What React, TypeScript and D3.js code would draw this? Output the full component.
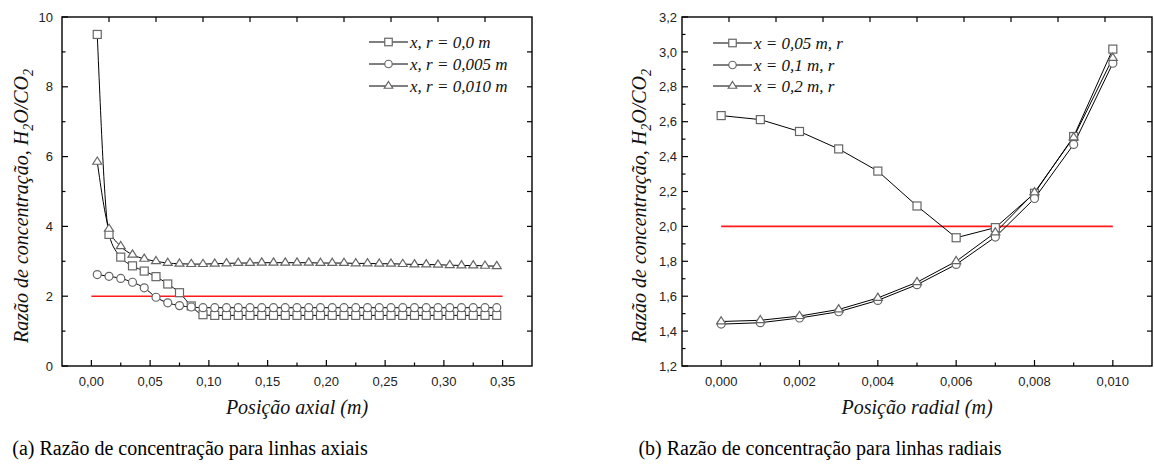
import React from "react";
import * as d3 from "d3";

// ---------- DATA ----------
const axialX = [0.005, 0.015, 0.025, 0.035, 0.045, 0.055, 0.065, 0.075, 0.085, 0.095, 0.105, 0.115, 0.125, 0.135, 0.145, 0.155, 0.165, 0.175, 0.185, 0.195, 0.205, 0.215, 0.225, 0.235, 0.245, 0.255, 0.265, 0.275, 0.285, 0.295, 0.305, 0.315, 0.325, 0.335, 0.345];
const axialR0 = [9.5, 3.77, 3.12, 2.87, 2.72, 2.56, 2.35, 2.1, 1.72, 1.47, 1.45, 1.45, 1.45, 1.45, 1.45, 1.45, 1.45, 1.45, 1.45, 1.45, 1.45, 1.45, 1.45, 1.45, 1.45, 1.45, 1.45, 1.45, 1.45, 1.45, 1.45, 1.45, 1.45, 1.45, 1.45];
const axialR005 = [2.62, 2.57, 2.51, 2.4, 2.24, 1.97, 1.81, 1.73, 1.69, 1.67, 1.67, 1.67, 1.67, 1.67, 1.67, 1.67, 1.67, 1.67, 1.67, 1.67, 1.67, 1.67, 1.67, 1.67, 1.67, 1.67, 1.67, 1.67, 1.67, 1.67, 1.67, 1.67, 1.67, 1.67, 1.67];
const axialR010 = [5.85, 3.93, 3.43, 3.19, 3.07, 3.0, 2.95, 2.93, 2.92, 2.92, 2.93, 2.94, 2.95, 2.95, 2.96, 2.96, 2.96, 2.96, 2.96, 2.95, 2.95, 2.95, 2.94, 2.94, 2.93, 2.93, 2.92, 2.91, 2.91, 2.9, 2.89, 2.88, 2.88, 2.87, 2.86];

const radialX = [0, 0.001, 0.002, 0.003, 0.004, 0.005, 0.006, 0.007, 0.008, 0.009, 0.01];
const radialX005 = [2.635, 2.612, 2.544, 2.444, 2.317, 2.117, 1.935, 1.993, 2.19, 2.515, 3.016];
const radialX01 = [1.44, 1.448, 1.475, 1.511, 1.576, 1.666, 1.782, 1.939, 2.16, 2.47, 2.935];
const radialX02 = [1.455, 1.462, 1.486, 1.524, 1.59, 1.68, 1.8, 1.965, 2.195, 2.51, 2.965];

const axialXTicks = [0, 0.05, 0.1, 0.15, 0.2, 0.25, 0.3, 0.35];
const axialXMinor = [0.025, 0.075, 0.125, 0.175, 0.225, 0.275, 0.325];
const axialYTicks = [0, 2, 4, 6, 8, 10];
const axialYMinor = [1, 3, 5, 7, 9];
const radialXTicks = [0, 0.002, 0.004, 0.006, 0.008, 0.01];
const radialXMinor = [0.001, 0.003, 0.005, 0.007, 0.009];
const radialYTicks = [1.2, 1.4, 1.6, 1.8, 2.0, 2.2, 2.4, 2.6, 2.8, 3.0, 3.2];
const radialYMinor = [1.3, 1.5, 1.7, 1.9, 2.1, 2.3, 2.5, 2.7, 2.9, 3.1];

const axialLegend = ["x, r = 0,0 m", "x, r = 0,005 m", "x, r = 0,010 m"];
const radialLegend = ["x = 0,05 m, r", "x = 0,1 m, r", "x = 0,2 m, r"];
const refLevel = 2.0;

const captions = ["(a) Razão de concentração para linhas axiais", "(b) Razão de concentração para linhas radiais"];

// ---------- DRAWING ----------
type Shape = "square" | "circle" | "triangle";
const MARK = "#666";
const SERIF = '"Liberation Serif", "Times New Roman", Tinos, "DejaVu Serif", serif';
const SANS = '"Liberation Sans", Arial, Arimo, sans-serif';

function Marker({ shape, x, y, s }: { shape: Shape; x: number; y: number; s: number }) {
  if (shape === "square")
    return <rect x={x - s / 2} y={y - s / 2} width={s} height={s} fill="#fff" stroke={MARK} strokeWidth={1.2} />;
  if (shape === "circle")
    return <circle cx={x} cy={y} r={s / 2} fill="#fff" stroke={MARK} strokeWidth={1.2} />;
  const h = s * 0.9;
  const p = `M${x},${y - (2 * h) / 3}L${x + s / 2 + 0.5},${y + h / 3}L${x - s / 2 - 0.5},${y + h / 3}Z`;
  return <path d={p} fill="#fff" stroke={MARK} strokeWidth={1.2} />;
}

const comma = (v: number, d: number) => v.toFixed(d).replace(".", ",");

interface PanelProps {
  x0: number; x1: number; y0: number; y1: number;
  xDomain: [number, number]; yDomain: [number, number];
  xData: number[]; series: number[][]; shapes: Shape[];
  xTicks: number[]; xMinor: number[]; yTicks: number[]; yMinor: number[];
  xDec: number; yDec: number;
  curve: any; refX: [number, number];
  legend: string[]; legX: number; legY: number[];
  xTitle: string; yTitleX: number; yTitleY: number;
  labelRight: number; caption: string; captionX: number;
}

function Panel(p: PanelProps) {
  const xs = d3.scaleLinear().domain(p.xDomain).range([p.x0, p.x1]);
  const ys = d3.scaleLinear().domain(p.yDomain).range([p.y0, p.y1]);
  const line = d3.line<number>().x((_, i) => xs(p.xData[i])).y((d) => ys(d)).curve(p.curve);
  const W = p.x1 - p.x0;
  const Hh = p.y0 - p.y1;
  const divs = d3.range(1, 10);
  const tickStyle = { fontFamily: SANS, fontSize: 13, fill: "#222" } as React.CSSProperties;
  const italic = { fontFamily: SERIF, fontStyle: "italic", fill: "#111" } as React.CSSProperties;
  return (
    <g>
      <line x1={xs(p.refX[0])} x2={xs(p.refX[1])} y1={ys(refLevel)} y2={ys(refLevel)} stroke="#ff1a1a" strokeWidth={1.6} />
      {p.series.map((s, i) => (
        <path key={"l" + i} d={line(s) || ""} fill="none" stroke="#000" strokeWidth={1} />
      ))}
      {p.series.map((s, i) =>
        s.map((v, j) => <Marker key={`m${i}-${j}`} shape={p.shapes[i]} x={xs(p.xData[j])} y={ys(v)} s={8} />)
      )}
      <rect x={p.x0} y={p.y1} width={W} height={Hh} fill="none" stroke="#000" strokeWidth={1.4} />
      {p.xTicks.map((t) => (
        <g key={"xt" + t}>
          <line x1={xs(t)} x2={xs(t)} y1={p.y0} y2={p.y0 - 6} stroke="#000" strokeWidth={1.2} />
          <text x={xs(t)} y={p.y0 + 20} textAnchor="middle" style={tickStyle}>{comma(t, p.xDec)}</text>
        </g>
      ))}
      {p.xMinor.map((t) => (
        <line key={"xm" + t} x1={xs(t)} x2={xs(t)} y1={p.y0} y2={p.y0 - 3.5} stroke="#000" strokeWidth={1.2} />
      ))}
      {p.yTicks.map((t) => (
        <g key={"yt" + t}>
          <line x1={p.x0} x2={p.x0 + 6} y1={ys(t)} y2={ys(t)} stroke="#000" strokeWidth={1.2} />
          <text x={p.labelRight} y={ys(t)} dy="0.36em" textAnchor="end" style={tickStyle}>{comma(t, p.yDec)}</text>
        </g>
      ))}
      {p.yMinor.map((t) => (
        <line key={"ym" + t} x1={p.x0} x2={p.x0 + 3.5} y1={ys(t)} y2={ys(t)} stroke="#000" strokeWidth={1.2} />
      ))}
      {divs.map((k) => (
        <g key={"d" + k}>
          <line x1={p.x0 + (W * k) / 10} x2={p.x0 + (W * k) / 10} y1={p.y1} y2={p.y1 + 5} stroke="#000" strokeWidth={1.2} />
          <line x1={p.x1} x2={p.x1 - 5} y1={p.y1 + (Hh * k) / 10} y2={p.y1 + (Hh * k) / 10} stroke="#000" strokeWidth={1.2} />
        </g>
      ))}
      {p.legend.map((t, i) => (
        <g key={"lg" + i}>
          <line x1={p.legX} x2={p.legX + 39} y1={p.legY[i]} y2={p.legY[i]} stroke="#000" strokeWidth={1} />
          <Marker shape={p.shapes[i]} x={p.legX + 19.5} y={p.legY[i]} s={7.5} />
          <text x={p.legX + 41} y={p.legY[i]} dy="0.33em" style={{ ...italic, fontSize: 17 }}>{t}</text>
        </g>
      ))}
      <text x={(p.x0 + p.x1) / 2} y={414} textAnchor="middle" style={{ ...italic, fontSize: 20 }}>{p.xTitle}</text>
      <text transform={`translate(${p.yTitleX},${p.yTitleY}) rotate(-90)`} textAnchor="middle" style={{ ...italic, fontSize: 20 }}>
        Razão de concentração, H<tspan style={{ fontSize: 14 }} dy={5}>2</tspan><tspan dy={-5}>O/CO</tspan><tspan style={{ fontSize: 14 }} dy={5}>2</tspan>
      </text>
      <text x={p.captionX} y={455} textAnchor="middle" style={{ fontFamily: SERIF, fontSize: 20, fill: "#000" }}>{p.caption}</text>
    </g>
  );
}

export default function App() {
  return (
    <svg width={1154} height={466} style={{ position: "absolute", left: 0, top: 0, background: "#fff" }}>
      <rect width={1154} height={466} fill="#fff" />
      <Panel
        x0={62} x1={532} y0={366} y1={17}
        xDomain={[-0.025, 0.375]} yDomain={[0, 10]}
        xData={axialX} series={[axialR0, axialR005, axialR010]} shapes={["square", "circle", "triangle"]}
        xTicks={axialXTicks} xMinor={axialXMinor} yTicks={axialYTicks} yMinor={axialYMinor}
        xDec={2} yDec={0} curve={d3.curveMonotoneX} refX={[0, 0.35]}
        legend={axialLegend} legX={369} legY={[42, 64, 86]}
        xTitle="Posição axial (m)" yTitleX={28} yTitleY={206}
        labelRight={53} caption={captions[0]} captionX={190}
      />
      <Panel
        x0={682} x1={1152} y0={366} y1={17}
        xDomain={[-0.001, 0.011]} yDomain={[1.2, 3.2]}
        xData={radialX} series={[radialX005, radialX01, radialX02]} shapes={["square", "circle", "triangle"]}
        xTicks={radialXTicks} xMinor={radialXMinor} yTicks={radialYTicks} yMinor={radialYMinor}
        xDec={3} yDec={1} curve={d3.curveLinear} refX={[0, 0.01]}
        legend={radialLegend} legX={713} legY={[43, 65, 86]}
        xTitle="Posição radial (m)" yTitleX={646} yTitleY={206}
        labelRight={677} caption={captions[1]} captionX={820}
      />
    </svg>
  );
}
